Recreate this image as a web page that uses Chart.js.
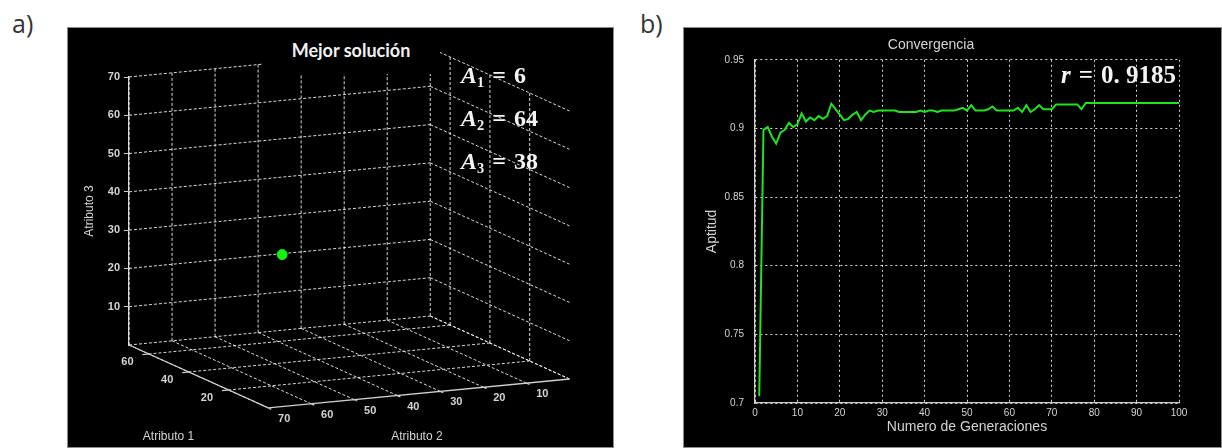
<!DOCTYPE html>
<html lang="es">
<head>
<meta charset="utf-8">
<title>Mejor solución y convergencia</title>
<script src="https://cdn.jsdelivr.net/npm/chart.js@4.4.1/dist/chart.umd.min.js"></script>
<style>
  html, body { margin: 0; padding: 0; background: #fff; }
  body { position: relative; width: 1222px; height: 448px; overflow: hidden; }
  .tag { position: absolute; top: 6px; font: 25px 'Open Sans', sans-serif; color: #333; }
  .panel { position: absolute; top: 27px; height: 421px; background: #000; box-shadow: inset 0 0 0 1px #8c8c8c; }
  #titleA { position: absolute; left: 262px; top: 28px; width: 178px; height: 46px; background: #000;
            color: #f2f2f2; font: bold 18px Lato, sans-serif; text-align: center; line-height: 44px; }
  .eq { position: absolute; color: #f4f4f4; font-family: 'Liberation Serif', serif; font-weight: bold;
        white-space: nowrap; line-height: 1; }
  .eq sub { font-size: 0.6em; vertical-align: -0.25em; }
  .eq .op { margin: 0 8px; }
</style>
</head>
<body>
<div class="tag" style="left:12px">a)</div>
<div class="tag" style="left:640px">b)</div>
<div class="panel" style="left:67px;width:547px"><canvas id="solucion"></canvas></div>
<div class="panel" style="left:683px;width:539px"><canvas id="convergencia"></canvas></div>
<div id="titleA">Mejor solución</div>
<div id="annotA"></div>
<div class="eq" id="rValue" style="left:1061px;top:62px;font-size:25px"></div>
<script>
// ---- a) best solution in the 3-D search space
const attrMax = 70
const attr1Grid = [20, 40, 60]
const attr1Labels = [20, 40, 60]
const attr2Grid = [0, 10, 20, 30, 40, 50, 60, 70]
const attr2Labels = [10, 20, 30, 40, 50, 60, 70]
const attr3Grid = [0, 10, 20, 30, 40, 50, 60, 70]
const attr3Labels = [10, 20, 30, 40, 50, 60, 70]
const bestSolution = [6, 64, 38]

// ---- b) convergence
const generaciones = [
  1, 2, 3, 4, 5, 6, 7, 8, 9, 10, 11, 12, 13, 14, 15, 16, 17, 18, 19, 20,
  21, 22, 23, 24, 25, 26, 27, 28, 29, 30, 31, 32, 33, 34, 35, 36, 37, 38, 39, 40,
  41, 42, 43, 44, 45, 46, 47, 48, 49, 50, 51, 52, 53, 54, 55, 56, 57, 58, 59, 60,
  61, 62, 63, 64, 65, 66, 67, 68, 69, 70, 71, 72, 73, 74, 75, 76, 77, 78, 79, 80,
  81, 82, 83, 84, 85, 86, 87, 88, 89, 90, 91, 92, 93, 94, 95, 96, 97, 98, 99, 100
]
const aptitud = [
  0.705, 0.899, 0.901, 0.894, 0.889, 0.897, 0.899, 0.904, 0.901, 0.903,
  0.911, 0.905, 0.908, 0.906, 0.909, 0.907, 0.909, 0.918, 0.914, 0.910,
  0.906, 0.907, 0.910, 0.912, 0.906, 0.910, 0.913, 0.912, 0.913, 0.913,
  0.913, 0.913, 0.913, 0.912, 0.912, 0.912, 0.912, 0.912, 0.913, 0.912,
  0.913, 0.913, 0.912, 0.913, 0.913, 0.913, 0.913, 0.914, 0.915, 0.913,
  0.917, 0.913, 0.913, 0.913, 0.914, 0.916, 0.913, 0.913, 0.913, 0.913,
  0.913, 0.915, 0.912, 0.917, 0.912, 0.914, 0.917, 0.914, 0.914, 0.914,
  0.9175, 0.9175, 0.9175, 0.9175, 0.9175, 0.9175, 0.914, 0.9185, 0.9185, 0.9185,
  0.9185, 0.9185, 0.9185, 0.9185, 0.9185, 0.9185, 0.9185, 0.9185, 0.9185, 0.9185,
  0.9185, 0.9185, 0.9185, 0.9185, 0.9185, 0.9185, 0.9185, 0.9185, 0.9185, 0.9185
]
const genTicks = [0, 10, 20, 30, 40, 50, 60, 70, 80, 90, 100]
const aptitudTicks = [0.7, 0.75, 0.8, 0.85, 0.9, 0.95]

Chart.defaults.font.family = "'Liberation Sans', Arial, sans-serif"
const textColor = '#d4d4d4'

// camera of the 3-D box: x in px right of the Atributo 3 axis, y in Atributo 3 units
const view = { x0: 446, xa: -2.014, xb: -4.357, d0: 34, da: -0.9, db: 0.414, pz: 3.83 }
function project(a, b, c) {
  return {
    x: view.x0 + view.xa * a + view.xb * b,
    y: c - (view.d0 + view.da * a + view.db * b) / view.pz
  }
}

function polyline(segments) {
  const pts = []
  segments.forEach((seg) => {
    seg.forEach((p) => pts.push(project(...p)))
    pts.push({ x: null, y: null })
  })
  return pts
}

const gridSegs = []
attr3Grid.forEach((c) => {
  gridSegs.push([[attrMax, attrMax, c], [attrMax, 0, c]])
  gridSegs.push([[attrMax, 0, c], [0, 0, c]])
})
attr2Grid.forEach((b) => {
  gridSegs.push([[attrMax, b, 0], [attrMax, b, attrMax]])
  gridSegs.push([[0, b, 0], [attrMax, b, 0]])
})
attr1Grid.forEach((a) => {
  gridSegs.push([[a, 0, 0], [a, 0, attrMax]])
  gridSegs.push([[a, 0, 0], [a, attrMax, 0]])
})

const axisSegs = [[[attrMax, attrMax, 0], [0, attrMax, 0], [0, 0, 0]]]
attr1Labels.forEach((a) => axisSegs.push([[a, attrMax, 0], [a, attrMax + 1.5, 0]]))
attr2Labels.forEach((b) => axisSegs.push([[0, b, 0], [-1.5, b, 0]]))

const floorLabels = {
  id: 'floorLabels',
  afterDatasetsDraw(chart) {
    const { ctx, scales: { x, y } } = chart
    const put = (text, a, b, c) => {
      const p = project(a, b, c)
      ctx.fillText(text, x.getPixelForValue(p.x), y.getPixelForValue(p.y))
    }
    ctx.save()
    ctx.fillStyle = textColor
    ctx.textAlign = 'center'
    ctx.textBaseline = 'middle'
    ctx.font = "bold 11px 'Liberation Sans'"
    attr1Labels.forEach((v) => put(String(v), v, attrMax + 5, -1.6))
    attr2Labels.forEach((v) => put(String(v), -8, v, -1))
    ctx.font = "12px 'Liberation Sans'"
    put('Atributo 1', 35, 77, -15)
    put('Atributo 2', -12, 41, -7.9)
    ctx.restore()
  }
}

new Chart(document.getElementById('solucion'), {
  type: 'scatter',
  data: {
    datasets: [
      {
        data: [project(...bestSolution)],
        pointRadius: 5,
        pointBackgroundColor: '#14ef14',
        pointBorderColor: '#14ef14',
        clip: false
      },
      {
        data: polyline(axisSegs),
        showLine: true,
        pointRadius: 0,
        borderColor: '#cfcfcf',
        borderWidth: 1.3,
        clip: false
      },
      {
        data: polyline(gridSegs),
        showLine: true,
        pointRadius: 0,
        borderColor: 'rgba(255,255,255,0.85)',
        borderWidth: 1,
        borderDash: [3, 2],
        clip: false
      }
    ]
  },
  options: {
    responsive: true,
    maintainAspectRatio: false,
    animation: false,
    events: [],
    layout: { padding: { top: 50, bottom: 103, left: 0, right: 0 } },
    scales: {
      x: { type: 'linear', display: false, min: 0, max: 485 },
      y: {
        type: 'linear',
        position: 'left',
        min: 0,
        max: attrMax,
        afterBuildTicks: (s) => { s.ticks = attr3Grid.map((v) => ({ value: v })) },
        afterFit: (s) => { s.width = 62 },
        grid: { drawOnChartArea: false, drawTicks: true, tickLength: 5, color: '#cfcfcf' },
        border: { display: true, color: '#cfcfcf', width: 1.3 },
        ticks: {
          color: textColor,
          padding: 4,
          font: { size: 11, weight: 'bold' },
          callback: (v) => (attr3Labels.includes(v) ? String(v) : null)
        },
        title: { display: true, text: 'Atributo 3', color: textColor, font: { size: 12 }, padding: { top: 15 } }
      }
    },
    plugins: { legend: { display: false }, tooltip: { enabled: false } }
  },
  plugins: [floorLabels]
})

document.getElementById('annotA').innerHTML = bestSolution
  .map((v, i) => `<div class="eq" style="left:461px;top:${63 + i * 43}px;font-size:24px">` +
    `<i>A</i><sub>${i + 1}</sub><span class="op">=</span>${v}</div>`)
  .join('')

// ---- b) chart
const rFinal = aptitud[aptitud.length - 1]
document.getElementById('rValue').innerHTML =
  `<i>r</i><span class="op">=</span>${String(rFinal).replace('.', '. ')}`

const gridColor = 'rgba(255,255,255,0.85)'
new Chart(document.getElementById('convergencia'), {
  type: 'line',
  data: {
    datasets: [
      {
        data: generaciones.map((g, i) => ({ x: g, y: aptitud[i] })),
        borderColor: '#1fe41f',
        borderWidth: 2,
        pointRadius: 0,
        tension: 0
      }
    ]
  },
  options: {
    responsive: true,
    maintainAspectRatio: false,
    animation: false,
    events: [],
    layout: { padding: { right: 43 } },
    scales: {
      x: {
        type: 'linear',
        min: 0,
        max: 100,
        afterBuildTicks: (s) => { s.ticks = genTicks.map((v) => ({ value: v })) },
        afterFit: (s) => { s.height = 45 },
        grid: { color: gridColor, drawTicks: false },
        border: { display: true, color: '#cfcfcf', width: 1.3, dash: [2, 3] },
        ticks: { color: textColor, font: { size: 10 }, padding: 4, maxRotation: 0 },
        title: {
          display: true,
          text: 'Numero de Generaciones',
          color: textColor,
          font: { size: 14 },
          padding: { bottom: 12 }
        }
      },
      y: {
        type: 'linear',
        min: 0.7,
        max: 0.95,
        afterBuildTicks: (s) => { s.ticks = aptitudTicks.map((v) => ({ value: v })) },
        afterFit: (s) => { s.width = 72 },
        grid: { color: gridColor, drawTicks: false },
        border: { display: true, color: '#cfcfcf', width: 1.3, dash: [2, 3] },
        ticks: { color: textColor, font: { size: 10 }, padding: 11, callback: (v) => String(v) },
        title: { display: true, text: 'Aptitud', color: textColor, font: { size: 14 }, padding: { top: 21 } }
      }
    },
    plugins: {
      legend: { display: false },
      tooltip: { enabled: false },
      title: {
        display: true,
        text: 'Convergencia',
        color: textColor,
        font: { size: 14, weight: 'normal' },
        padding: { top: 10, bottom: 6 }
      }
    }
  }
})
</script>
</body>
</html>
